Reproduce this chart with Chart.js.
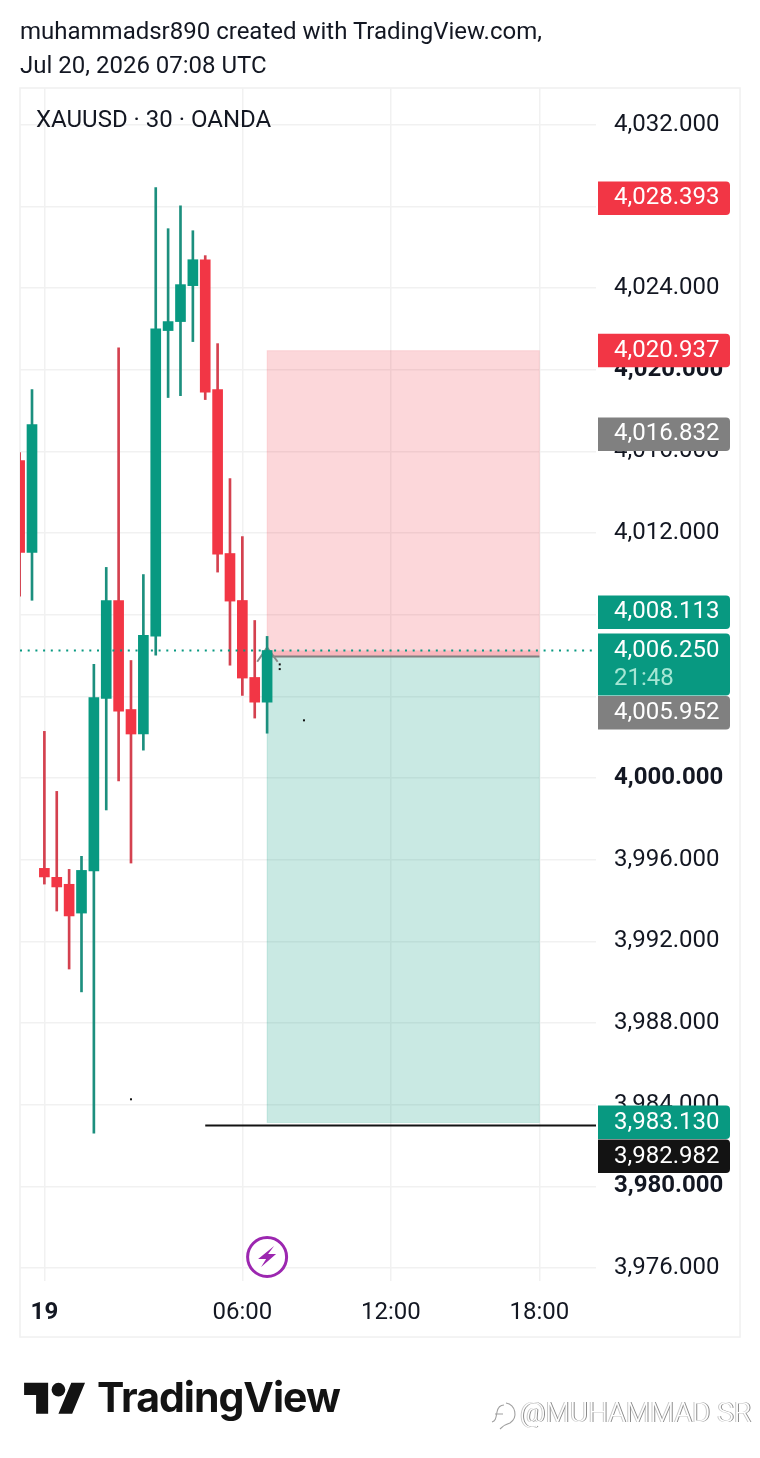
<!DOCTYPE html>
<html>
<head>
<meta charset="utf-8">
<title>XAUUSD</title>
<script src="https://cdn.jsdelivr.net/npm/chart.js@4/dist/chart.umd.min.js"></script>
<style>
  html, body { margin: 0; padding: 0; background: #fff; }
  #wrap { position: relative; width: 760px; height: 1458px; overflow: hidden; font-family: Roboto, sans-serif; color: #131722; }
  canvas { position: absolute; left: 0; top: 0; }
  .txt { position: absolute; white-space: nowrap; }
  #head { left: 20px; top: 14px; font-size: 24px; line-height: 34px; }
  #legend { left: 36px; top: 104px; font-size: 24px; line-height: 30px; }
  #logo { position: absolute; left: 24px; top: 1376px; }
  #logoText { left: 97px; top: 1372px; font-family: Inter, sans-serif; font-weight: 700; font-size: 41px; line-height: 50px; letter-spacing: -1px; color: #131313; }
  #mark { left: 520px; top: 1395px; font-size: 28px; line-height: 36px; font-weight: 300; color: #fff; text-shadow: 1px 0 0 #8a8a8a, -1px 0 0 #c8c8c8; }
  #markIcon { position: absolute; left: 490px; top: 1401px; }
</style>
</head>
<body>
<div id="wrap">
  <canvas id="chart" width="760" height="1458"></canvas>
  <div class="txt" id="head">muhammadsr890 created with TradingView.com,<br>Jul 20, 2026 07:08 UTC</div>
  <div class="txt" id="legend">XAUUSD · 30 · OANDA</div>
  <svg id="logo" width="62" height="40" viewBox="0 0 36 23.3">
    <path fill="#131313" d="M14 22H7V11H0V4h14v18zM28 22h-8l7.5-18h8L28 22z"/>
    <circle fill="#131313" cx="20" cy="8" r="4"/>
  </svg>
  <div class="txt" id="logoText">TradingView</div>
  <svg id="markIcon" width="28" height="30" viewBox="0 0 28 30">
    <path fill="none" stroke="#a0a0a0" stroke-width="1.1" d="M16 2a11 11 0 0 1 4 20c-4 1-7 3-10 6M2 21c4-1 4-5 5-10 1-5 3-7 7-7M5 13h8"/>
  </svg>
  <div class="txt" id="mark">@MUHAMMAD SR</div>
</div>
<script>
// 30 min candles, index 0 is the one cut off at the left edge
const opens  = [4015.55, 4011.06, 3995.58, 3995.14, 3994.80, 3993.39, 3995.45, 4003.90, 4008.70, 4003.36, 4002.16, 4006.95, 4021.92, 4022.36, 4024.12, 4025.39, 4019.03, 4011.00, 4008.70, 4004.93, 4003.72];
const highs  = [4015.94, 4019.03, 4002.29, 3999.35, 3995.53, 3996.17, 4005.57, 4010.32, 4021.08, 4005.76, 4009.97, 4028.92, 4026.91, 4028.03, 4026.81, 4025.59, 4021.28, 4014.67, 4011.83, 4007.72, 4006.94];
const lows   = [4008.91, 4008.71, 3994.81, 3993.49, 3990.65, 3989.53, 3982.61, 3998.44, 3999.86, 3995.84, 4001.37, 4006.02, 4018.64, 4018.73, 4021.38, 4018.54, 4010.09, 4005.53, 4004.05, 4002.94, 4002.20];
const closes = [4011.06, 4017.31, 3995.16, 3994.67, 3993.25, 3995.48, 4003.95, 4008.70, 4003.28, 4002.16, 4006.99, 4022.01, 4022.36, 4024.17, 4025.39, 4018.90, 4010.97, 4008.67, 4004.90, 4003.72, 4006.25];

const yTicks = [4032, 4028, 4024, 4020, 4016, 4012, 4008, 4004, 4000, 3996, 3992, 3988, 3984, 3980, 3976];
const boldY = [4020, 4000, 3980];
// grid line stays, label is dropped where a price tag sits on it
const hiddenY = [4028, 4008, 4004];
const xTicks = [2, 18, 30, 42];
const xLabels = ['19', '06:00', '12:00', '18:00'];

// long position tool
const toolStart = 20;
const toolEnd = 42;
const stopPrice = 4020.937;
const entryPrice = 4005.952;
const targetPrice = 3983.130;
const lastPrice = 4006.250;
const countdown = '21:48';

// horizontal line and the small drawing leftovers
const hLinePrice = 3982.982;
const hLineStart = 15;
const chevronX = [19.2, 20, 20.85];
const chevronY = [4005.7, 4006.4, 4005.7];
const speckX = [21.02, 21.02, 22.98, 9];
const speckY = [4005.57, 4005.34, 4002.83, 3984.27];

const tagValues = [4028.393, 4020.937, 4016.832, 4008.113, 4006.250, 4005.952, 3983.130, 3982.982];
const tagKinds = ['red', 'red', 'gray', 'teal', 'last', 'gray', 'teal', 'black'];

const TEAL = '#089981';
const RED = '#f23645';
const WICK_TEAL = '#1c8f7e';
const WICK_RED = '#d4414f';
const GRID = '#f1f1f1';
const tagFill = { red: RED, gray: '#808080', teal: TEAL, last: TEAL, black: '#131313' };

function money(v) {
  return v.toLocaleString('en-US', { minimumFractionDigits: 3, maximumFractionDigits: 3 });
}

const isUp = opens.map((o, i) => closes[i] >= o);

const overlay = {
  id: 'overlay',
  beforeDraw(chart) {
    const a = chart.chartArea, c = chart.ctx;
    c.save();
    c.strokeStyle = '#f0f0f0';
    c.lineWidth = 1.5;
    c.strokeRect(a.left, a.top, 720, 1249);
    c.restore();
  },
  beforeDatasetsDraw(chart) {
    const c = chart.ctx, x = chart.scales.x, y = chart.scales.y;
    const x0 = x.getPixelForValue(toolStart), x1 = x.getPixelForValue(toolEnd);
    const band = (p0, p1, fill, edge) => {
      const y0 = y.getPixelForValue(p0), y1 = y.getPixelForValue(p1);
      c.fillStyle = fill;
      c.fillRect(x0, y0, x1 - x0, y1 - y0);
      if (edge) {
        c.strokeStyle = edge;
        c.lineWidth = 1;
        c.strokeRect(x0, y0, x1 - x0, y1 - y0);
      }
    };
    c.save();
    band(stopPrice, entryPrice, 'rgba(242,54,69,0.2)', 'rgba(242,54,69,0.12)');
    band(entryPrice, targetPrice, 'rgba(8,153,129,0.22)', 'rgba(8,153,129,0.15)');
    band(lastPrice, entryPrice, 'rgba(242,54,69,0.2)');
    c.strokeStyle = '#808080';
    c.lineWidth = 2;
    c.beginPath();
    c.moveTo(x0, y.getPixelForValue(entryPrice));
    c.lineTo(x1, y.getPixelForValue(entryPrice));
    c.stroke();
    c.strokeStyle = '#8a8a8a';
    c.beginPath();
    chevronX.forEach((v, i) => {
      const px = x.getPixelForValue(v), py = y.getPixelForValue(chevronY[i]);
      if (i === 0) c.moveTo(px, py); else c.lineTo(px, py);
    });
    c.stroke();
    c.restore();
  },
  afterDatasetsDraw(chart) {
    const a = chart.chartArea, c = chart.ctx, x = chart.scales.x, y = chart.scales.y;
    c.save();
    // last price dots
    c.strokeStyle = TEAL;
    c.lineWidth = 2;
    c.setLineDash([2, 5.7]);
    c.beginPath();
    c.moveTo(a.left, y.getPixelForValue(lastPrice));
    c.lineTo(a.right - 4, y.getPixelForValue(lastPrice));
    c.stroke();
    c.setLineDash([]);
    // black line
    c.strokeStyle = '#131313';
    c.lineWidth = 2;
    c.beginPath();
    c.moveTo(x.getPixelForValue(hLineStart), y.getPixelForValue(hLinePrice));
    c.lineTo(a.right, y.getPixelForValue(hLinePrice));
    c.stroke();
    // specks
    c.fillStyle = '#131313';
    speckX.forEach((v, i) => {
      c.fillRect(x.getPixelForValue(v) - 1, y.getPixelForValue(speckY[i]) - 1, 2, 2);
    });
    // lightning badge on the last candle
    const bx = x.getPixelForValue(toolStart), by = a.bottom - 24;
    c.strokeStyle = '#9c27b0';
    c.fillStyle = '#fff';
    c.lineWidth = 3;
    c.beginPath();
    c.arc(bx, by, 19.5, 0, Math.PI * 2);
    c.fill();
    c.stroke();
    c.fillStyle = '#9c27b0';
    c.beginPath();
    c.moveTo(bx + 7, by - 11);
    c.lineTo(bx - 9, by + 2);
    c.lineTo(bx - 1, by + 2);
    c.lineTo(bx - 6, by + 10);
    c.lineTo(bx + 9, by - 3);
    c.lineTo(bx + 1, by - 3);
    c.closePath();
    c.fill();
    c.restore();
  },
  afterDraw(chart) {
    const a = chart.chartArea, c = chart.ctx, y = chart.scales.y;
    let prevBottom = 0;
    c.save();
    c.font = '24px Roboto';
    c.textBaseline = 'middle';
    tagValues.forEach((v, i) => {
      const kind = tagKinds[i];
      const h = kind === 'last' ? 62 : 33.5;
      const top = Math.max(y.getPixelForValue(v) - 17, prevBottom);
      prevBottom = top + h + 0.5;
      c.fillStyle = tagFill[kind];
      c.beginPath();
      c.roundRect(a.right + 2, top, 132, h, [0, 4, 4, 0]);
      c.fill();
      c.fillStyle = '#fff';
      c.fillText(money(v), a.right + 18, top + 17);
      if (kind === 'last') {
        c.fillStyle = '#a6e6d4';
        c.fillText(countdown, a.right + 18, top + 45);
      }
    });
    c.restore();
  }
};

new Chart(document.getElementById('chart'), {
  type: 'bar',
  data: {
    datasets: [
      {
        label: 'Body',
        data: opens.map((o, i) => ({ x: i, y: [o, closes[i]] })),
        backgroundColor: isUp.map(u => u ? TEAL : RED),
        barThickness: 10,
        grouped: false,
        order: 1
      },
      {
        label: 'Wick',
        data: lows.map((l, i) => ({ x: i, y: [l, highs[i]] })),
        backgroundColor: isUp.map(u => u ? WICK_TEAL : WICK_RED),
        barThickness: 2,
        grouped: false,
        order: 2
      }
    ]
  },
  options: {
    responsive: false,
    animation: false,
    devicePixelRatio: 1,
    layout: { padding: { left: 20, top: 88, right: 20, bottom: 121 } },
    plugins: { legend: { display: false }, tooltip: { enabled: false } },
    scales: {
      x: {
        type: 'linear',
        offset: false,
        min: 0.03,
        max: 46.58,
        afterBuildTicks: s => { s.ticks = xTicks.map(v => ({ value: v })); },
        afterFit: s => { s.height = 56; },
        grid: { color: GRID, lineWidth: 1.5, drawTicks: false, offset: false },
        border: { display: false },
        ticks: {
          autoSkip: false,
          maxRotation: 0,
          padding: 18,
          color: '#131722',
          font: c => ({ family: 'Roboto', size: 24, weight: c.tick && c.tick.value === xTicks[0] ? 'bold' : 'normal' }),
          callback: v => xLabels[xTicks.indexOf(v)]
        }
      },
      y: {
        position: 'right',
        min: 3975.37,
        max: 4033.80,
        afterBuildTicks: s => { s.ticks = yTicks.map(v => ({ value: v })); },
        afterFit: s => { s.width = 144; },
        grid: { color: GRID, lineWidth: 1.5, drawTicks: false },
        border: { display: false },
        ticks: {
          padding: 18,
          color: '#131722',
          font: c => ({ family: 'Roboto', size: 24, weight: c.tick && boldY.includes(c.tick.value) ? 'bold' : 'normal' }),
          callback: v => hiddenY.includes(v) ? '' : money(v)
        }
      }
    }
  },
  plugins: [overlay]
});
</script>
</body>
</html>
